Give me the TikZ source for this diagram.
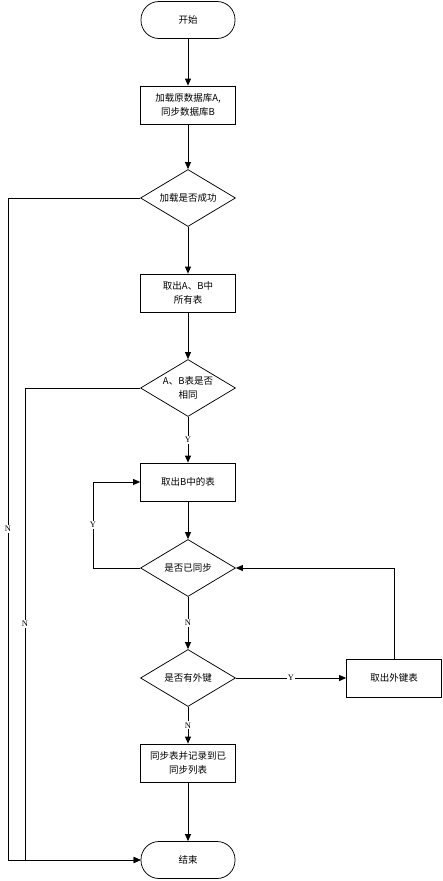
\documentclass[tikz,border=0pt]{standalone}
\usepackage{fontspec}
\setmainfont{Noto Sans CJK SC}
\newfontfamily\labelfont{Liberation Serif}
\usetikzlibrary{shapes.geometric,arrows.meta}

\begin{document}
\begin{tikzpicture}[x=1pt, y=-1pt, line width=0.75pt, >={Triangle[length=7pt,width=6pt]},
        font=\fontsize{9.5}{14}\selectfont,
        term/.style = {draw, rectangle, rounded corners=18pt, minimum width=94pt, minimum height=37pt},
        proc/.style = {draw, rectangle, minimum width=95pt, minimum height=38pt, align=center},
        dec/.style = {draw, diamond, aspect=1.7, minimum width=95pt, minimum height=57pt, inner sep=0pt, align=center},
        lab/.style = {fill=white, inner sep=1pt, font=\labelfont\fontsize{8.5}{9}\selectfont}]
    \useasboundingbox (0,0) rectangle (443,881);

        \node[term] (start) at (188,20) {开始};
        \node[proc] (load) at (188,105) {加载原数据库A,\\同步数据库B};
        \node[dec] (ok) at (188,198) {加载是否成功};
        \node[proc] (tables) at (188,293) {取出A、B中\\所有表};
        \node[dec] (same) at (188,388) {A、B表是否\\相同};
        \node[proc] (pick) at (188,482) {取出B中的表};
        \node[dec] (synced) at (188,568) {是否已同步};
        \node[dec] (fk) at (188,678) {是否有外键};
        \node[proc] (fktab) at (394,678) {取出外键表};
        \node[proc] (sync) at (188,763) {同步表并记录到已\\同步列表};
        \node[term] (end) at (188,860) {结束};

        \coordinate (okleft) at (8,198);
        \coordinate (sameleft) at (25,388);
        \coordinate (loopleft) at (93,568);
        \coordinate (fkup) at (394,568);

        \path[->] (start) edge (load);
        \path[->] (load) edge (ok);
        \path[->] (ok) edge (tables);
        \path[->] (tables) edge (same);
        \path[->] (same) edge node[lab] {Y} (pick);
        \path[->] (pick) edge (synced);
        \path[->] (synced) edge node[lab] {N} (fk);
        \path[->] (fk) edge node[lab] {Y} (fktab);
        \path[->] (fk) edge node[lab] {N} (sync);
        \path[->] (sync) edge (end);

        \draw[->] (synced.west) -- (loopleft) |- node[lab, pos=0.25] {Y} (pick.west);
        \draw[->] (fktab.north) -- (fkup) -- (synced.east);
        \draw[->] (ok.west) -- (okleft) |- node[lab, pos=0.25] {N} (end.west);
        \draw[->] (same.west) -- (sameleft) |- node[lab, pos=0.25] {N} (end.west);

    \end{tikzpicture}
\end{document}
